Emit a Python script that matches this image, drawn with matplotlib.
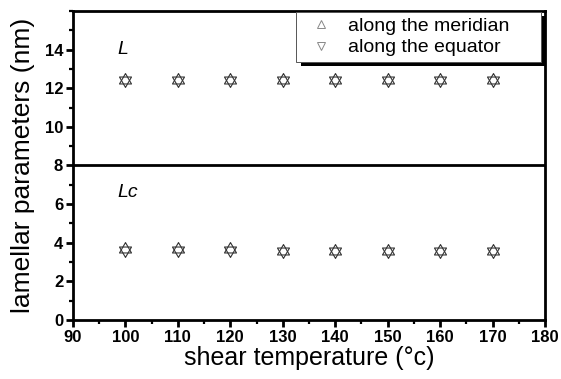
import numpy as np
import matplotlib.pyplot as plt
from matplotlib.patches import Rectangle
from matplotlib.ticker import MultipleLocator

plt.rcParams['font.family'] = ['Liberation Sans', 'DejaVu Sans']

# shear temperatures (C)
temps = [100, 110, 120, 130, 140, 150, 160, 170]
# long period L (nm)
L_meridian = [12.45, 12.45, 12.45, 12.45, 12.45, 12.45, 12.45, 12.45]
L_equator = [12.45, 12.45, 12.45, 12.45, 12.45, 12.45, 12.45, 12.45]
# crystal thickness Lc (nm)
Lc_meridian = [3.68, 3.68, 3.68, 3.55, 3.55, 3.55, 3.55, 3.55]
Lc_equator = [3.6, 3.6, 3.6, 3.55, 3.55, 3.55, 3.55, 3.55]

# triangles centred on their centroid, so that up + down make a star
tri_up = [(0, 1), (-0.866, -0.5), (0.866, -0.5), (0, 1)]
tri_dn = [(0, -1), (-0.866, 0.5), (0.866, 0.5), (0, -1)]

fig = plt.figure(figsize=(5.61, 3.79), dpi=100)
ax = fig.add_axes([0.130, 0.156, 0.8415, 0.815])

mk = dict(linestyle='none', markersize=10, markerfacecolor='none',
          markeredgecolor='#333333', markeredgewidth=0.8)
ax.plot(temps, L_meridian, marker=tri_up, **mk)
ax.plot(temps, L_equator, marker=tri_dn, **mk)
ax.plot(temps, Lc_meridian, marker=tri_up, **mk)
ax.plot(temps, Lc_equator, marker=tri_dn, **mk)

# divider between L and Lc
ax.axhline(8, color='black', linewidth=2)

ax.text(98.5, 14.0, 'L', fontsize=14, style='italic', ha='left', va='center')
ax.text(98.5, 6.6, 'Lc', fontsize=14, style='italic', ha='left', va='center')

# legend with grey handles
lg_mk = dict(linestyle='none', markersize=6, markerfacecolor='none',
             markeredgecolor='#888888', markeredgewidth=0.7)
h1, = ax.plot([], [], marker='^', **lg_mk)
h2, = ax.plot([], [], marker='v', **lg_mk)
leg = ax.legend([h1, h2], ['along the meridian', 'along the equator'],
                loc='upper left', bbox_to_anchor=(0.472, 0.997, 0.52, 0.0),
                mode='expand', borderaxespad=0, fontsize=14,
                handlelength=2.0, handletextpad=0.4, labelspacing=0.2,
                borderpad=0.28, fancybox=False, framealpha=1)
leg.get_frame().set_edgecolor('#555555')
leg.get_frame().set_linewidth(0.7)

ax.set_xlim(90, 180)
ax.set_ylim(0, 16)
ax.xaxis.set_major_locator(MultipleLocator(10))
ax.xaxis.set_minor_locator(MultipleLocator(5))
ax.yaxis.set_major_locator(MultipleLocator(2))
ax.yaxis.set_minor_locator(MultipleLocator(1))
ax.set_yticks([0, 2, 4, 6, 8, 10, 12, 14])

ax.tick_params(which='major', direction='out', length=5, width=2,
               labelsize=12, pad=2)
ax.tick_params(which='minor', direction='out', length=3, width=1.6)
for lab in ax.get_xticklabels() + ax.get_yticklabels():
    lab.set_fontweight('bold')
for s in ax.spines.values():
    s.set_linewidth(2)

ax.set_xlabel('shear temperature (\u00b0c)', fontsize=18, labelpad=1)
ax.set_ylabel('lamellar parameters (nm)', fontsize=19, labelpad=7)

# solid black drop shadow behind the legend box
fig.canvas.draw()
bb = leg.get_window_extent()
shadow = Rectangle((bb.x0 + 5, bb.y0 - 4), bb.width, bb.height,
                   transform=None, facecolor='black', edgecolor='none',
                   zorder=4.5, clip_on=False)
ax.add_artist(shadow)

fig.savefig('out.png', dpi=100)
